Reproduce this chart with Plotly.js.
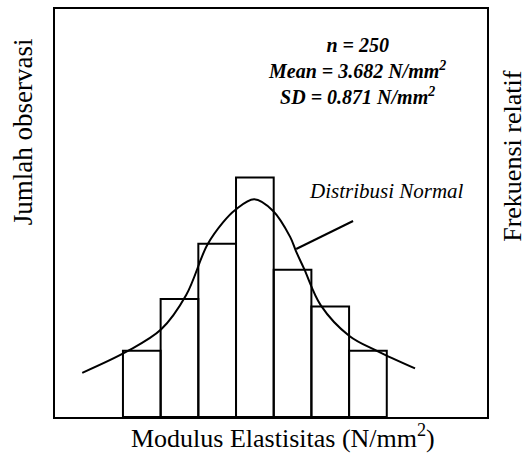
<!DOCTYPE html>
<html>
<head>
<meta charset="utf-8">
<script src="https://cdn.plot.ly/plotly-3.0.1.min.js"></script>
<style>html,body{margin:0;padding:0;background:#fff;}</style>
</head>
<body>
<div id="chart" style="width:528px;height:455px;"></div>
<script>
// Histogram bins (Modulus Elastisitas, N/mm²) and observed counts (n = 250)
const binCenters = [2.25, 2.75, 3.25, 3.75, 4.25, 4.75, 5.25];
const binWidth = 0.5;
const counts = [18, 32, 47, 65, 40, 30, 18];

// Points read along the drawn "Distribusi Normal" curve
const curveX = [1.460, 2.053, 2.508, 2.839, 3.118, 3.330, 3.489, 3.741, 3.989, 4.218, 4.298, 4.404, 4.625, 5.004, 5.375, 5.875];
const curveY = [12.0, 17.8, 23.8, 33.1, 46.7, 52.9, 56.2, 59.1, 56.0, 48.9, 44.9, 40.2, 30.3, 22.0, 17.9, 13.2];

// Leader line from the curve to the label
const leaderX = [4.298, 5.053];
const leaderY = [45.6, 53.2];

// Texts
const statsLines = ["n = 250", "Mean = 3.682 N/mm<sup>2</sup>", "SD = 0.871 N/mm<sup>2</sup>"];
const curveLabel = "Distribusi Normal";
const xTitle = "Modulus Elastisitas (N/mm<sup>2</sup>)";
const yTitleLeft = "Jumlah observasi";
const yTitleRight = "Frekuensi relatif";

const serif = "Liberation Serif, Times New Roman, serif";

const traces = [
  {
    type: "bar",
    x: binCenters,
    y: counts,
    width: binCenters.map(() => binWidth),
    marker: { color: "rgba(255,255,255,0)", line: { color: "#000", width: 2 } },
    hoverinfo: "skip"
  },
  {
    type: "scatter",
    mode: "lines",
    x: curveX,
    y: curveY,
    line: { color: "#000", width: 2, shape: "spline", smoothing: 1 },
    hoverinfo: "skip"
  },
  {
    type: "scatter",
    mode: "lines",
    x: leaderX,
    y: leaderY,
    line: { color: "#000", width: 2 },
    hoverinfo: "skip"
  }
];

const axisCommon = {
  showline: true, mirror: true, linecolor: "#000", linewidth: 2,
  showgrid: false, zeroline: false, ticks: "", showticklabels: false
};

const layout = {
  width: 528, height: 455,
  margin: { l: 55, r: 41, t: 9, b: 38, pad: 0 },
  paper_bgcolor: "#fff", plot_bgcolor: "#fff",
  showlegend: false,
  bargap: 0,
  xaxis: Object.assign({ range: [1.0985, 6.8297] }, axisCommon),
  yaxis: Object.assign({ range: [0, 110.75] }, axisCommon),
  annotations: [
    {
      xref: "paper", yref: "paper", x: 0.699, y: 0.848,
      xanchor: "center", yanchor: "middle", align: "center",
      text: statsLines.map(s => "<b><i>" + s + "</i></b>").join("<br>"),
      showarrow: false,
      font: { family: serif, size: 20, color: "#000" }
    },
    {
      xref: "paper", yref: "paper", x: 0.767, y: 0.555,
      xanchor: "center", yanchor: "middle",
      text: "<i>" + curveLabel + "</i>",
      showarrow: false,
      font: { family: serif, size: 21, color: "#000" }
    },
    {
      xref: "paper", yref: "paper", x: 0.527, y: -0.0925,
      xanchor: "center", yanchor: "bottom",
      text: xTitle,
      showarrow: false,
      font: { family: serif, size: 26, color: "#000" }
    },
    {
      xref: "paper", yref: "paper", x: -0.072, y: 0.70,
      xanchor: "center", yanchor: "middle",
      text: yTitleLeft, textangle: -90,
      showarrow: false,
      font: { family: serif, size: 27, color: "#000" }
    },
    {
      xref: "paper", yref: "paper", x: 1.060, y: 0.64,
      xanchor: "center", yanchor: "middle",
      text: yTitleRight, textangle: -90,
      showarrow: false,
      font: { family: serif, size: 26, color: "#000" }
    }
  ]
};

Plotly.newPlot("chart", traces, layout, { staticPlot: true, displayModeBar: false });
</script>
</body>
</html>
